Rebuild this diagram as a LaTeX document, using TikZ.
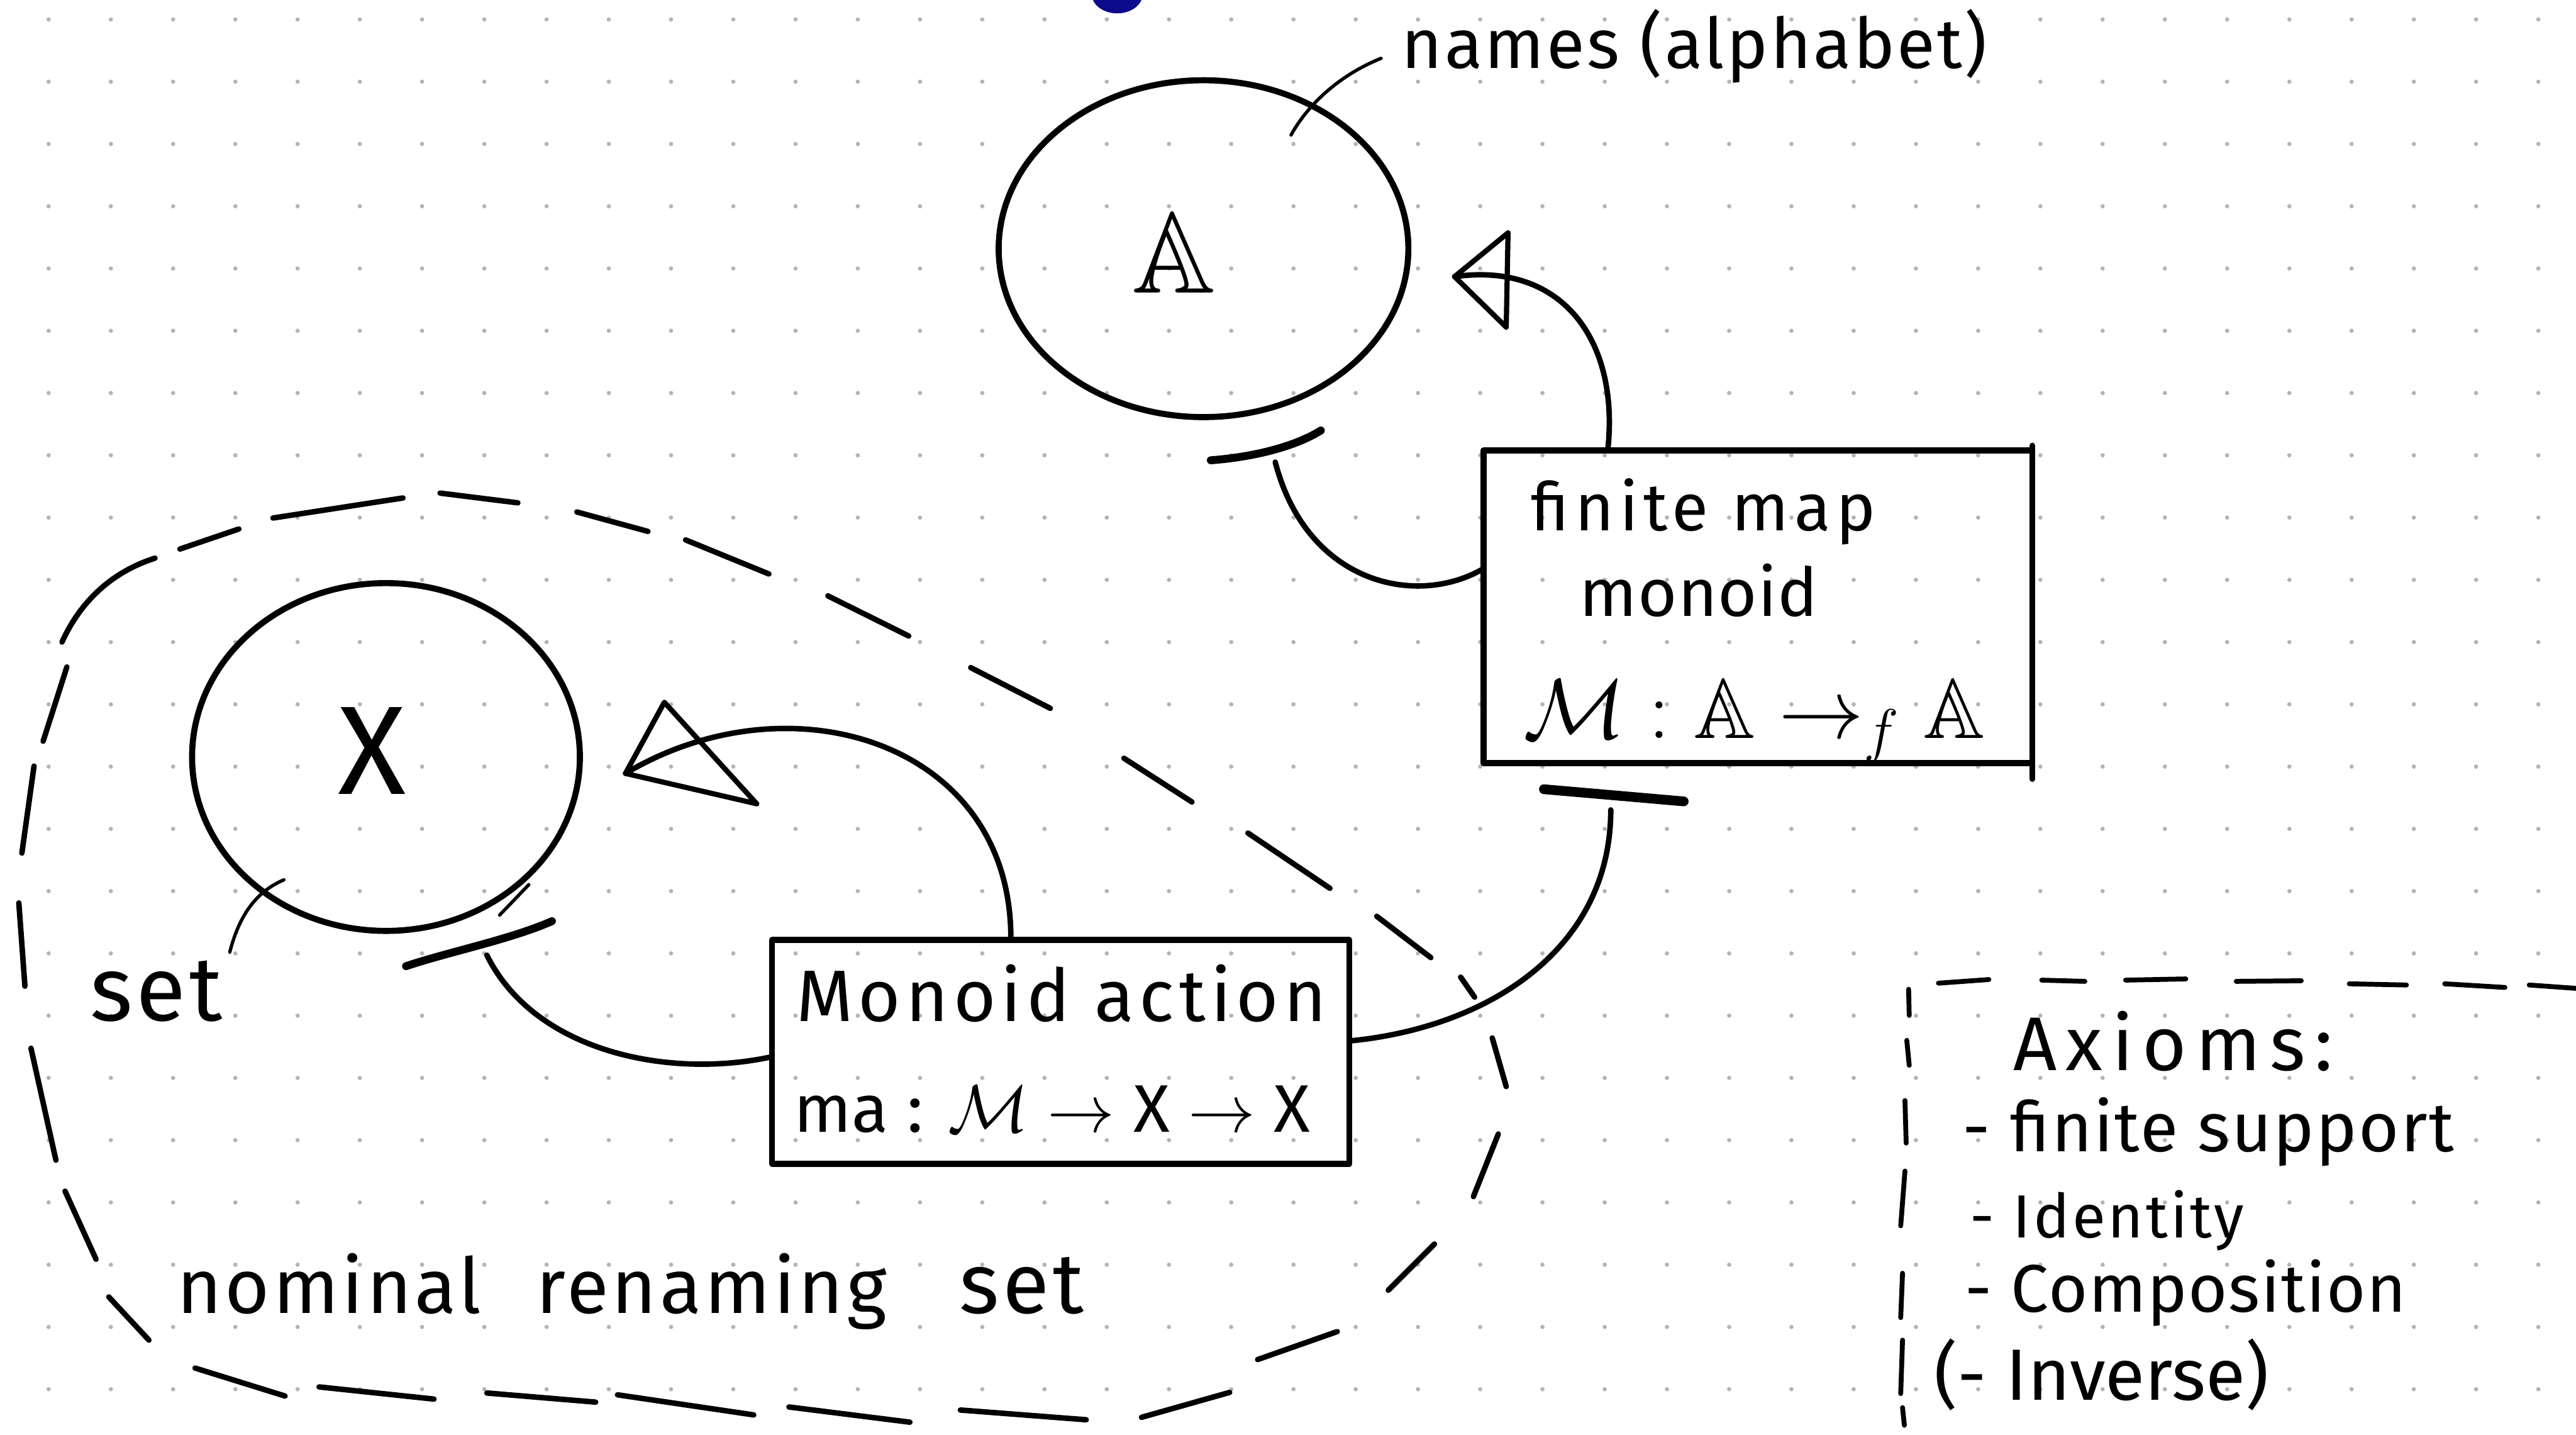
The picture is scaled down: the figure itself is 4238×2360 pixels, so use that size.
\RequirePackage{fix-cm}
\documentclass[tikz,border=0pt]{standalone}
\usepackage{amssymb}
\usepackage{fontspec}
\setmainfont{Fira Sans}
\usetikzlibrary{shapes.geometric,arrows.meta}
\definecolor{dotgrey}{HTML}{B4B4B4}
\definecolor{inkblue}{HTML}{0B0B8C}
\newcommand\handfont[2]{\fontsize{#1}{#1}\selectfont\addfontfeatures{LetterSpace=#2}}

\begin{document}
\begin{tikzpicture}[x=0.1mm, y=-0.1mm,
  ink/.style={line width=1mm, line cap=round, line join=round},
  thinink/.style={line width=0.55mm, line cap=round},
  ring/.style={ellipse, draw, ink, inner sep=0pt, outer sep=0pt},
  boxnode/.style={rectangle, draw, ink, inner sep=0pt, outer sep=0pt},
  conn/.style={line width=0.9mm, line cap=round, line join=round},
  openhead/.style={line width=0.85mm, line cap=round, line join=round},
  socket/.style={line width=1.3mm, line cap=round},
  dashseg/.style={line width=0.9mm, line cap=round},
  txt/.style={inner sep=0pt, outer sep=0pt, anchor=base west}
]
% page and dotted paper
\fill[white] (0,0) rectangle (4238,2360);
\useasboundingbox (0,0) rectangle (4238,2360);
\foreach \i in {0,...,40}{
  \foreach \j in {0,...,22}{
    \fill[dotgrey] ({80+102.4*\i},{32+102.4*\j}) circle[radius=0.35mm];
  }
}
% ink blot at the top edge
\fill[inkblue] (1838,-10) ellipse[x radius=4.2mm, y radius=3.2mm];

% ---------- the alphabet of names ----------
\node[ring, minimum width=67.4mm, minimum height=55.4mm] (A) at (1980,409) {};
\node[inner sep=0pt, font=\fontsize{54}{54}\selectfont] (Alab) at (1931,416) {$\mathbb{A}$};
\node[txt, font={\handfont{32.7}{3}}] (names) at (2306,112) {names (alphabet)};
\coordinate (namesTail) at (2272,96);
\coordinate (namesHead) at (2124,222);
\draw[thinink] (namesTail) .. controls (2200,125) and (2150,175) .. (namesHead);

% ---------- finite map monoid ----------
\node[boxnode, minimum width=90.3mm, minimum height=51.4mm] (fm) at (2892,998) {};
\draw[ink] ([shift={(0,-8)}]fm.north east) -- ([shift={(0,26)}]fm.south east);
\node[txt, font={\handfont{31.3}{8}}] (fm1) at (2519,873) {finite map};
\node[txt, font={\handfont{31.5}{1}}] (fm2) at (2599,1013) {monoid};
\node[txt, font=\fontsize{39.8}{40}\selectfont] (fm3) at (2506,1214)
  {$\mathcal{M} : \mathbb{A} \to_{f} \mathbb{A}$};

% sockets
\draw[socket] (1992,757) .. controls (2060,752) and (2130,735) .. (2173,708);
\draw[socket, line width=1.6mm] (2540,1298) -- (2770,1318);
\draw[socket] (668,1589) .. controls (740,1565) and (840,1545) .. (908,1515);
\draw[thinink] (822,1505) -- (870,1455);

\coordinate (fmTop) at (2645,741);
\coordinate (fmLeft) at (2441,935);
\coordinate (Atip) at (2393,455);
\coordinate (sockA) at (2098,760);
\coordinate (sockFM) at (2650,1332);
\coordinate (sockX) at (801,1571);

\draw[conn] (fmTop) .. controls (2665,560) and (2570,430) .. (Atip);
\draw[openhead] (Atip) -- (2481,383) -- (2478,538) -- cycle;
\draw[conn] (fmLeft) .. controls (2330,1000) and (2150,960) .. (sockA);

% ---------- the set X ----------
\node[ring, minimum width=63.8mm, minimum height=57.2mm] (X) at (635,1245) {};
\node[inner sep=0pt, font=\fontsize{59}{59}\selectfont] (Xlab) at (612,1235) {X};
\node[txt, font={\handfont{42.7}{4}}] (setlab) at (148,1679) {set};
\coordinate (setTail) at (378,1566);
\coordinate (setHead) at (467,1447);
\draw[thinink] (setTail) .. controls (395,1500) and (425,1465) .. (setHead);

% ---------- monoid action ----------
\node[boxnode, minimum width=95mm, minimum height=36.8mm] (ma) at (1745,1730) {};
\node[txt, font={\handfont{34.1}{7}}] (ma1) at (1310,1680) {Monoid action};
\node[txt, font={\handfont{31.5}{1}}] (ma2) at (1306,1862)
  {ma : $\mathcal{M} \to$ X $\to$ X};

\coordinate (maTop) at (1663,1545);
\coordinate (maLeft) at (1270,1738);
\coordinate (maRight) at (2220,1712);
\coordinate (Xtip) at (1029,1272);

\draw[conn] (maTop) .. controls (1665,1220) and (1300,1110) .. (Xtip);
\draw[openhead] (Xtip) -- (1093,1155) -- (1245,1322) -- cycle;
\draw[conn] (maLeft) .. controls (1100,1775) and (880,1730) .. (sockX);
\draw[conn] (maRight) .. controls (2450,1690) and (2650,1560) .. (sockFM);

% ---------- nominal renaming set (dashed region) ----------
\node[txt, font={\handfont{36}{4}}] (nrs) at (291,2160)
  {nominal\hspace{9mm}renaming\hspace{12mm}{\fontsize{40}{40}\selectfont set}};
\foreach \a/\b in {
  {(393,870)}/{(296,903)},
  {(110,1097)}/{(71,1219)},
  {(56,1260)}/{(36,1403)},
  {(31,1485)}/{(41,1622)},
  {(51,1724)}/{(92,1908)},
  {(107,1959)}/{(158,2071)},
  {(179,2133)}/{(245,2204)},
  {(321,2250)}/{(469,2296)},
  {(525,2281)}/{(714,2301)},
  {(801,2291)}/{(980,2306)},
  {(1016,2294)}/{(1240,2327)},
  {(1298,2314)}/{(1497,2339)},
  {(1580,2319)}/{(1787,2335)},
  {(1878,2331)}/{(2023,2290)},
  {(2069,2236)}/{(2200,2190)},
  {(2284,2122)}/{(2360,2046)},
  {(2424,1968)}/{(2465,1865)},
  {(2455,1707)}/{(2478,1787)},
  {(2403,1607)}/{(2426,1640)},
  {(2265,1507)}/{(2354,1575)},
  {(2053,1370)}/{(2188,1461)},
  {(1849,1247)}/{(1961,1319)},
  {(1597,1098)}/{(1728,1165)},
  {(1362,980)}/{(1495,1046)},
  {(1128,888)}/{(1265,944)},
  {(949,842)}/{(1066,874)},
  {(724,811)}/{(852,827)},
  {(449,852)}/{(663,819)}}
  {\draw[dashseg] \a -- \b;}
\draw[dashseg] (255,918) .. controls (170,945) and (125,1005) .. (102,1056);

% ---------- axioms ----------
\foreach \a/\b in {
  {(3189,1617)}/{(3272,1611)},
  {(3359,1612)}/{(3430,1614)},
  {(3497,1612)}/{(3596,1610)},
  {(3679,1614)}/{(3786,1613)},
  {(3865,1618)}/{(3959,1620)},
  {(4022,1618)}/{(4121,1624)},
  {(4161,1620)}/{(4245,1626)},
  {(3140,1627)}/{(3141,1670)},
  {(3137,1711)}/{(3141,1752)},
  {(3134,1810)}/{(3136,1880)},
  {(3134,1926)}/{(3127,2016)},
  {(3130,2094)}/{(3127,2167)},
  {(3130,2204)}/{(3127,2292)},
  {(3130,2315)}/{(3133,2344)}}
  {\draw[dashseg, line width=0.8mm] \a -- \b;}
\node[txt, font={\handfont{35.6}{12}}] (ax0) at (3312,1760) {Axioms:};
\node[txt, font={\handfont{32.5}{2}}] (ax1) at (3229,1894) {- finite support};
\node[txt, font={\handfont{28.5}{4}}] (ax2) at (3241,2036) {- Identity};
\node[txt, font={\handfont{31.5}{1.5}}] (ax3) at (3233,2158) {- Composition};
\node[txt, font={\handfont{34}{0}}] (ax4) at (3182,2303) {(- Inverse)};
\end{tikzpicture}
\end{document}
